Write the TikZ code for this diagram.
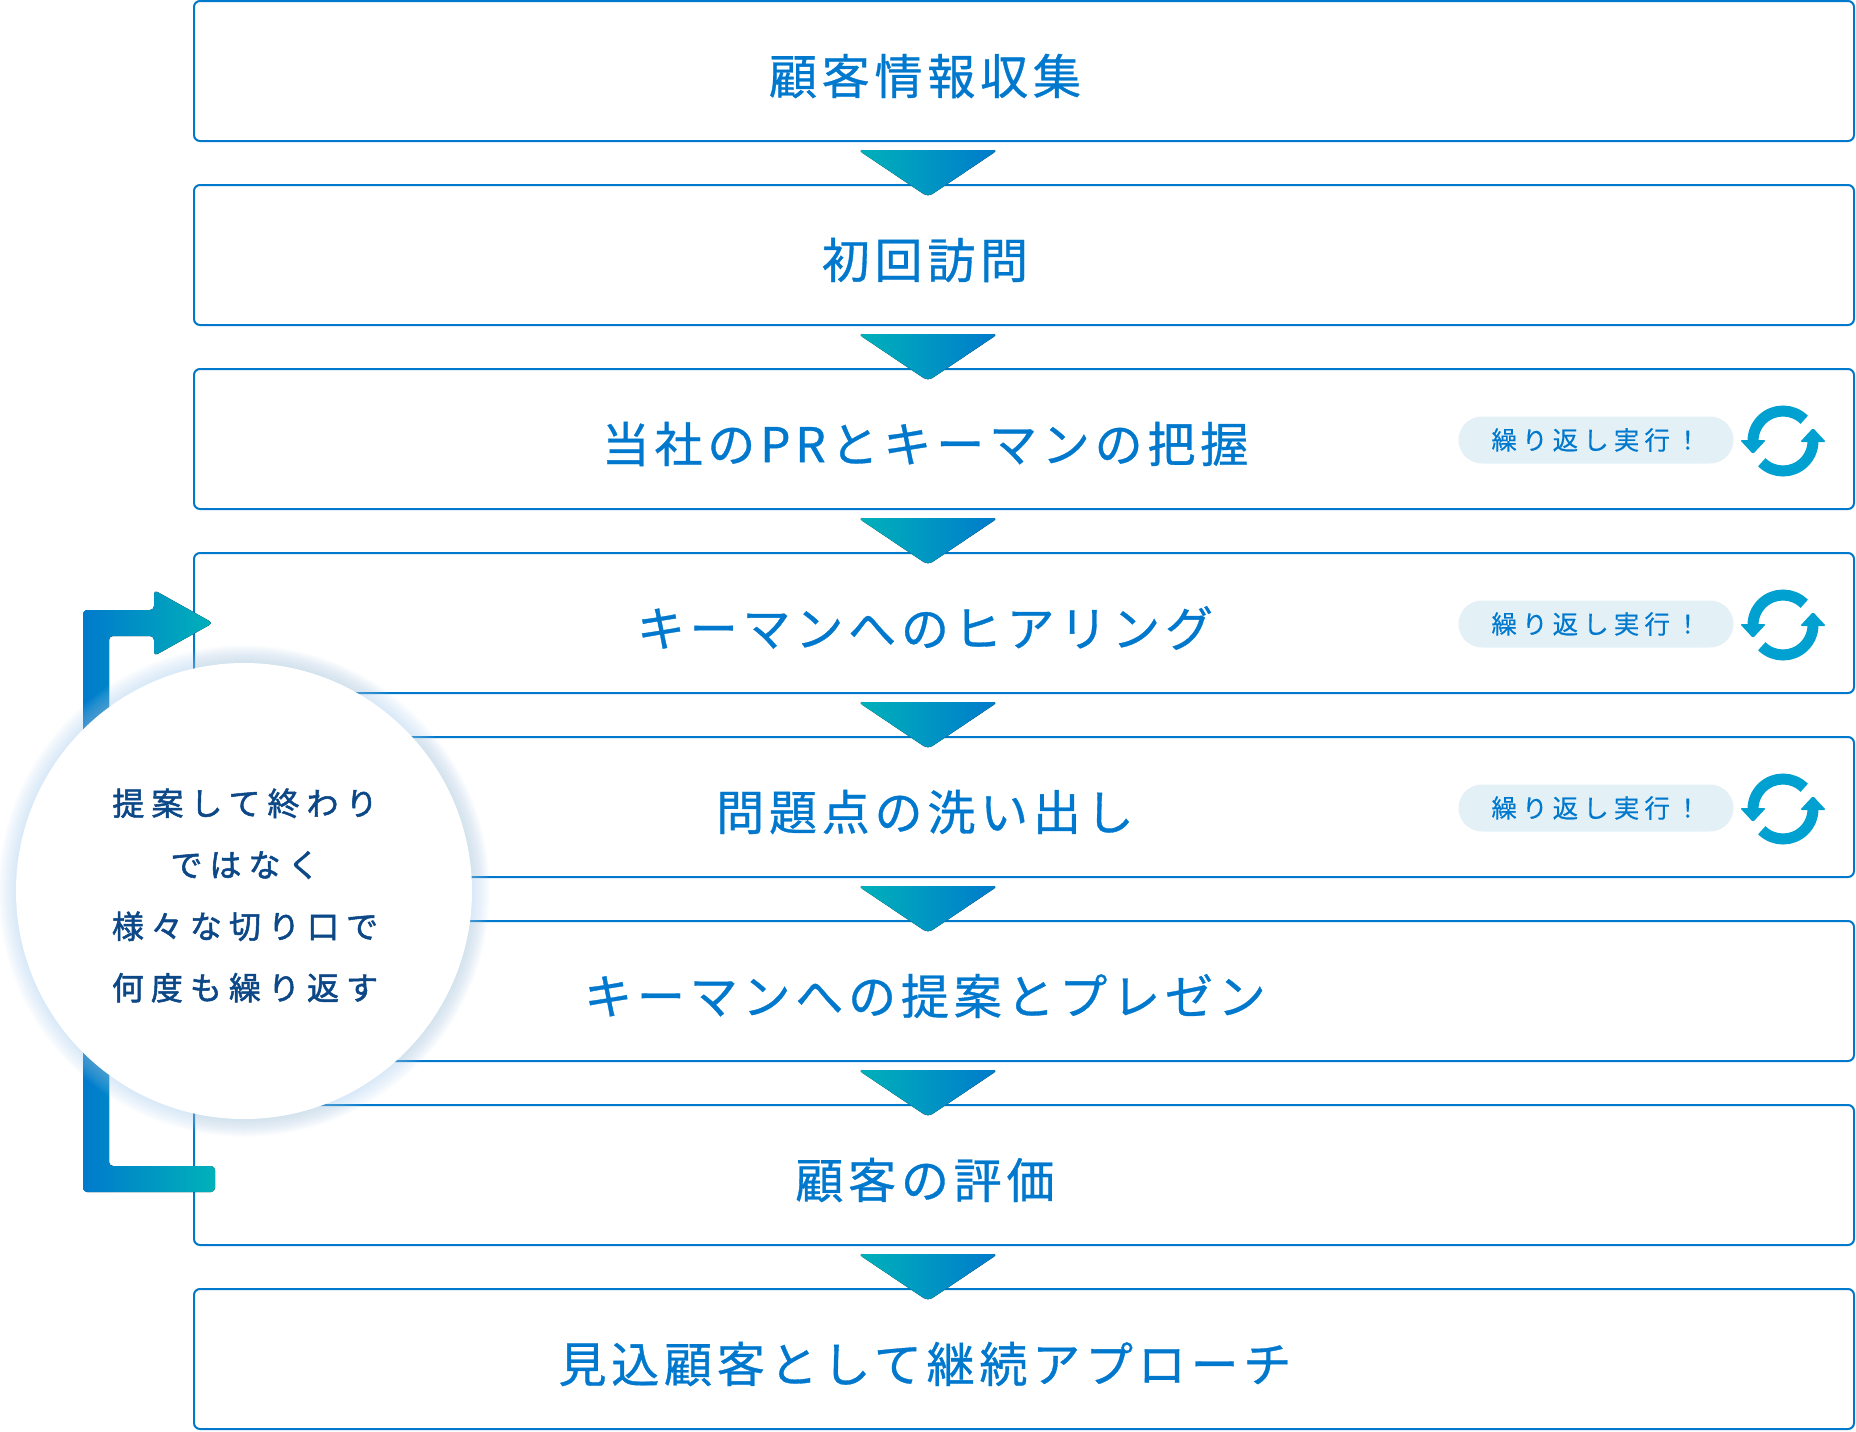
\documentclass[tikz,border=0pt]{standalone}
\usepackage{fontspec}
\usetikzlibrary{calc}
\newfontfamily\jpmain{Noto Sans CJK JP}[LetterSpace=10,FakeBold=0.7]
\newfontfamily\jpbadge{Noto Sans CJK JP}[LetterSpace=20,FakeBold=0.3]
\newfontfamily\jpcircle{Noto Sans CJK JP}[LetterSpace=22,FakeBold=1.6]
\definecolor{boxblue}{RGB}{0,120,204}
\definecolor{txtblue}{RGB}{0,120,205}
\definecolor{navy}{RGB}{12,72,135}
\definecolor{teal}{RGB}{0,178,185}
\definecolor{arrblue}{RGB}{0,122,204}
\definecolor{badgefill}{RGB}{227,241,247}
\definecolor{refc}{RGB}{0,160,208}
\definecolor{glowc}{RGB}{170,205,238}
\tikzset{
  flowbox/.style={draw=boxblue, line width=2, rounded corners=6, fill=white,
    minimum width=1660, minimum height=140, inner sep=0},
  maintext/.style={text=txtblue, font=\jpmain\fontsize{48}{56}\selectfont, inner sep=0},
  badge/.style={fill=badgefill, rounded corners=23.5, minimum width=275, minimum height=47,
    inner sep=0, text=txtblue, font=\jpbadge\fontsize{25.5}{30}\selectfont},
  flowtri/.style={left color=teal, right color=arrblue, rounded corners=5},
  refresh/.pic={
    \draw[refc, line width=11] (-45:30) arc (-45:-180:30);
    \draw[refc, line width=11] (135:30) arc (135:0:30);
    \fill[refc, rounded corners=1.5] (-43,-1) -- (-17,-1) -- (-30,13) -- cycle;
    \fill[refc, rounded corners=1.5] (43,1) -- (17,1) -- (30,-13) -- cycle;
  }
}
\begin{document}
\begin{tikzpicture}[x=1pt,y=-1pt]
\useasboundingbox (0,0) rectangle (1856,1432);
% boxes
\foreach \i/\t in {1/顧客情報収集, 2/初回訪問, 3/当社のPRとキーマンの把握, 4/キーマンへのヒアリング,
  5/問題点の洗い出し, 6/キーマンへの提案とプレゼン, 7/顧客の評価, 8/見込顧客として継続アプローチ}{
  \node[flowbox] (b\i) at (1024,{71+184*(\i-1)}) {};
  \node[maintext] (t\i) at (925,{76+184*(\i-1)}) {\t};
}
% flow arrows between boxes
\foreach \i in {1,...,7}{
  \coordinate (a\i) at ($(b\i.south)+(-96,0)$);
  \fill[flowtri] ($(a\i)+(-70,8)$) -- ($(a\i)+(70,8)$) -- ($(a\i)+(0,55)$) -- cycle;
}
% badges and refresh icons
\foreach \i in {3,4,5}{
  \node[badge] (g\i) at ($(b\i.center)+(572,1)$) {繰り返し実行！};
  \pic at ($(b\i.center)+(759,2)$) {refresh};
}
% loop arrow
\fill[left color=arrblue, right color=teal, rounded corners=4]
  (154,610) -- (154,590) -- (213,623) -- (154,656) -- (154,636) -- (109,636)
  -- (109,1166) -- (215,1166) -- (215,1192) -- (83,1192) -- (83,610) -- cycle;
% circle with glow
\coordinate (cc) at (244,891);
\foreach \r in {1,...,18}{
  \fill[glowc, opacity=0.03] (cc) circle ({228+\r});
}
\node[circle, fill=white, minimum size=456, inner sep=0] (circ) at (cc) {};
\node[text=navy, font=\jpcircle\fontsize{32}{61.5}\selectfont, align=center, inner sep=0]
  (ctext) at (245,895.5) {提案して終わり\\ではなく\\様々な切り口で\\何度も繰り返す};
\end{tikzpicture}
\end{document}
